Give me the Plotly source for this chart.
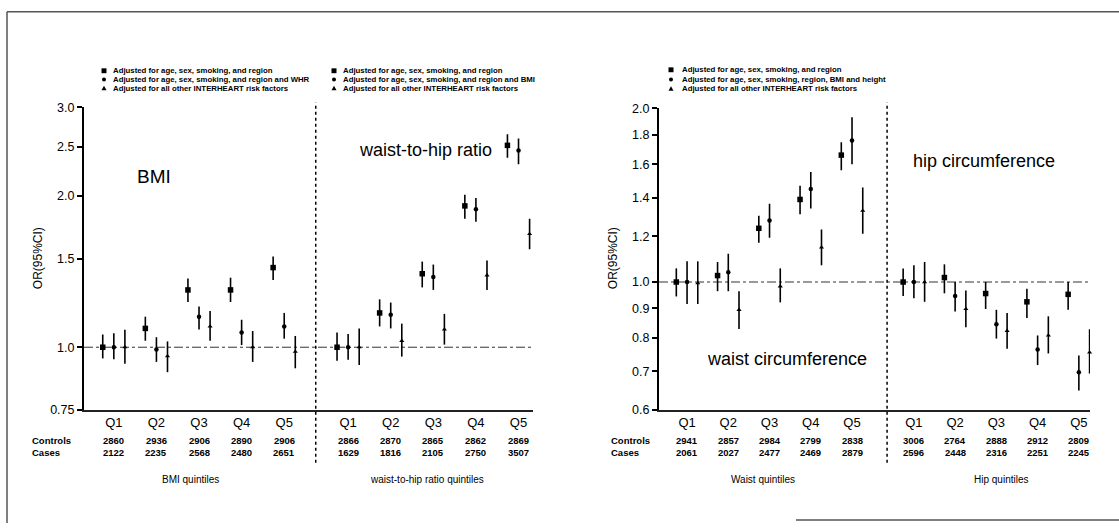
import math
import plotly.graph_objects as go

W, H = 1119, 530

# ---------------- data ----------------
quintiles = ["Q1", "Q2", "Q3", "Q4", "Q5"]

# BMI (left panel, left half)
bmi_sq = [1.00, 1.09, 1.30, 1.30, 1.44]
bmi_sq_lo = [0.95, 1.03, 1.23, 1.23, 1.36]
bmi_sq_hi = [1.06, 1.15, 1.37, 1.375, 1.515]
bmi_ci = [1.00, 0.99, 1.15, 1.07, 1.10]
bmi_ci_lo = [0.947, 0.935, 1.085, 1.01, 1.04]
bmi_ci_hi = [1.066, 1.047, 1.205, 1.134, 1.17]
bmi_tr = [1.00, 0.96, 1.10, 1.00, 0.98]
bmi_tr_lo = [0.927, 0.892, 1.03, 0.935, 0.908]
bmi_tr_hi = [1.083, 1.027, 1.18, 1.077, 1.053]

# waist-to-hip ratio (left panel, right half)
whr_sq = [1.00, 1.17, 1.40, 1.91, 2.52]
whr_sq_lo = [0.94, 1.10, 1.315, 1.80, 2.38]
whr_sq_hi = [1.07, 1.245, 1.48, 2.01, 2.65]
whr_ci = [1.00, 1.16, 1.38, 1.88, 2.46]
whr_ci_lo = [0.944, 1.09, 1.30, 1.776, 2.31]
whr_ci_hi = [1.063, 1.227, 1.46, 1.98, 2.60]
whr_tr = [1.00, 1.03, 1.085, 1.39, 1.68]
whr_tr_lo = [0.922, 0.958, 1.012, 1.30, 1.566]
whr_tr_hi = [1.09, 1.114, 1.165, 1.487, 1.80]

# waist circumference (right panel, left half)
waist_sq = [1.00, 1.026, 1.239, 1.39, 1.659]
waist_sq_lo = [0.944, 0.964, 1.17, 1.31, 1.561]
waist_sq_hi = [1.056, 1.083, 1.303, 1.468, 1.747]
waist_ci = [1.00, 1.04, 1.278, 1.449, 1.758]
waist_ci_lo = [0.916, 0.964, 1.193, 1.341, 1.60]
waist_ci_hi = [1.086, 1.119, 1.367, 1.551, 1.93]
waist_tr = [0.996, 0.895, 0.983, 1.148, 1.329]
waist_tr_lo = [0.916, 0.829, 0.922, 1.069, 1.212]
waist_tr_hi = [1.086, 0.964, 1.056, 1.233, 1.458]

# hip circumference (right panel, right half)
hip_sq = [1.00, 1.018, 0.955, 0.924, 0.952]
hip_sq_lo = [0.946, 0.956, 0.898, 0.866, 0.895]
hip_sq_hi = [1.055, 1.073, 1.0, 0.973, 1.0]
hip_ci = [1.00, 0.946, 0.845, 0.764, 0.698]
hip_ci_lo = [0.937, 0.889, 0.798, 0.718, 0.649]
hip_ci_hi = [1.069, 1.0, 0.895, 0.808, 0.746]
hip_tr = [1.00, 0.898, 0.823, 0.808, 0.755]
hip_tr_lo = [0.924, 0.835, 0.766, 0.752, 0.694]
hip_tr_hi = [1.083, 0.967, 0.884, 0.872, 0.828]

# table counts
bmi_controls = [2860, 2936, 2906, 2890, 2906]
bmi_cases = [2122, 2235, 2568, 2480, 2651]
whr_controls = [2866, 2870, 2865, 2862, 2869]
whr_cases = [1629, 1816, 2105, 2750, 3507]
waist_controls = [2941, 2857, 2984, 2799, 2838]
waist_cases = [2061, 2027, 2477, 2469, 2879]
hip_controls = [3006, 2764, 2888, 2912, 2809]
hip_cases = [2596, 2448, 2316, 2251, 2245]

left_yticks = [0.75, 1.0, 1.5, 2.0, 2.5, 3.0]
left_yticktext = ["0.75", "1.0", "1.5", "2.0", "2.5", "3.0"]
right_yticks = [0.6, 0.7, 0.8, 0.9, 1.0, 1.2, 1.4, 1.6, 1.8, 2.0]
right_yticktext = ["0.6", "0.7", "0.8", "0.9", "1.0", "1.2", "1.4", "1.6", "1.8", "2.0"]

legend_left1 = ["Adjusted for age, sex, smoking, and region",
                "Adjusted for age, sex, smoking, and region and WHR",
                "Adjusted for all other INTERHEART risk factors"]
legend_left2 = ["Adjusted for age, sex, smoking, and region",
                "Adjusted for age, sex, smoking, and region and BMI",
                "Adjusted for all other INTERHEART risk factors"]
legend_right = ["Adjusted for age, sex, smoking, and region",
                "Adjusted for age, sex, smoking, region, BMI and height",
                "Adjusted for all other INTERHEART risk factors"]

# ---------------- helpers ----------------
FONT = "Arial, Liberation Sans, Helvetica, sans-serif"


def px(x):
    return x / W


def py(y):
    return 1 - y / H


group1 = [1, 2, 3, 4, 5]
group2 = [6.5, 7.5, 8.5, 9.5, 10.5]
OFF = 0.26

fig = go.Figure()


def add_series(xs, ys, lo, hi, symbol, size, xa, ya):
    fig.add_trace(go.Scatter(
        x=xs, y=ys, mode="markers", cliponaxis=False,
        marker=dict(symbol=symbol, size=size, color="black"),
        error_y=dict(type="data", symmetric=False,
                     array=[h - v for h, v in zip(hi, ys)],
                     arrayminus=[v - l for v, l in zip(ys, lo)],
                     color="black", thickness=1.6, width=0),
        xaxis=xa, yaxis=ya, showlegend=False, hoverinfo="skip"))


def add_block(base, sq, sql, sqh, ci, cil, cih, tr, trl, trh, xa, ya):
    add_series([b - OFF for b in base], sq, sql, sqh, "square", 5.5, xa, ya)
    add_series(base, ci, cil, cih, "circle", 4.5, xa, ya)
    add_series([b + OFF for b in base], tr, trl, trh, "triangle-up", 4.5, xa, ya)


# reference lines at OR = 1
fig.add_trace(go.Scatter(x=[0.30, 10.84], y=[1.0, 1.0], mode="lines",
                         line=dict(color="#333", width=1, dash="dashdot"),
                         xaxis="x", yaxis="y", showlegend=False, hoverinfo="skip"))
fig.add_trace(go.Scatter(x=[0.32, 10.77], y=[1.0, 1.0], mode="lines",
                         line=dict(color="#333", width=1, dash="dashdot"),
                         xaxis="x2", yaxis="y2", showlegend=False, hoverinfo="skip"))

add_block(group1, bmi_sq, bmi_sq_lo, bmi_sq_hi, bmi_ci, bmi_ci_lo, bmi_ci_hi,
          bmi_tr, bmi_tr_lo, bmi_tr_hi, "x", "y")
add_block(group2, whr_sq, whr_sq_lo, whr_sq_hi, whr_ci, whr_ci_lo, whr_ci_hi,
          whr_tr, whr_tr_lo, whr_tr_hi, "x", "y")
add_block(group1, waist_sq, waist_sq_lo, waist_sq_hi, waist_ci, waist_ci_lo, waist_ci_hi,
          waist_tr, waist_tr_lo, waist_tr_hi, "x2", "y2")
add_block(group2, hip_sq, hip_sq_lo, hip_sq_hi, hip_ci, hip_ci_lo, hip_ci_hi,
          hip_tr, hip_tr_lo, hip_tr_hi, "x2", "y2")

xcommon = dict(showgrid=False, zeroline=False, showline=True, linecolor="#222",
               linewidth=1.5, ticks="", tickvals=group1 + group2,
               ticktext=quintiles + quintiles,
               tickfont=dict(family=FONT, size=13, color="black"))
ycommon = dict(type="log", showgrid=False, zeroline=False, showline=True,
               linecolor="black", linewidth=2, ticks="outside", ticklen=5,
               tickwidth=1.5, tickcolor="black",
               tickfont=dict(family=FONT, size=12.5, color="black"))

fig.update_layout(
    width=W, height=H, margin=dict(l=0, r=0, t=0, b=0),
    paper_bgcolor="white", plot_bgcolor="white",
    xaxis=dict(domain=[px(84), px(533)], range=[0.30, 10.84], anchor="y", **xcommon),
    yaxis=dict(domain=[py(414), py(103)], range=[math.log10(0.75), math.log10(3.0)],
               anchor="x", tickvals=left_yticks, ticktext=left_yticktext, **ycommon),
    xaxis2=dict(domain=[px(659), px(1090)], range=[0.32, 10.77], anchor="y2", **xcommon),
    yaxis2=dict(domain=[py(414), py(104)], range=[math.log10(0.6), math.log10(2.0)],
                anchor="x2", tickvals=right_yticks, ticktext=right_yticktext, **ycommon),
)

shapes = []
annots = []

# separators
shapes.append(dict(type="line", xref="x", yref="paper", x0=5.74, x1=5.74,
                   y0=py(468), y1=py(98), line=dict(color="black", width=1.5, dash="dot")))
shapes.append(dict(type="line", xref="x2", yref="paper", x0=5.85, x1=5.85,
                   y0=py(468), y1=py(98), line=dict(color="black", width=1.5, dash="dot")))

# border
for x0, y0, x1, y1 in [(7, 5, 1119, 5), (7, 5, 7, 530), (796, 527, 1119, 527)]:
    shapes.append(dict(type="line", xref="paper", yref="paper", x0=px(x0), x1=px(x1),
                       y0=py(y0), y1=py(y1), line=dict(color="#555", width=1.5)))


# legend glyphs + text
def glyph(kind, cx, cy):
    if kind == "square":
        shapes.append(dict(type="rect", xref="paper", yref="paper",
                           x0=px(cx - 2.5), x1=px(cx + 2.5), y0=py(cy + 2.5), y1=py(cy - 2.5),
                           fillcolor="black", line=dict(width=0)))
    elif kind == "circle":
        shapes.append(dict(type="circle", xref="paper", yref="paper",
                           x0=px(cx - 2), x1=px(cx + 2), y0=py(cy + 2), y1=py(cy - 2),
                           fillcolor="black", line=dict(width=0)))
    else:
        path = "M {} {} L {} {} L {} {} Z".format(
            px(cx - 2.5), py(cy + 2), px(cx + 2.5), py(cy + 2), px(cx), py(cy - 2.5))
        shapes.append(dict(type="path", xref="paper", yref="paper", path=path,
                           fillcolor="black", line=dict(width=0)))


def legend_block(texts, mx, tx, ys):
    for kind, t, yy in zip(["square", "circle", "tri"], texts, ys):
        glyph(kind, mx, yy)
        annots.append(dict(text=t, xref="paper", yref="paper", x=px(tx), y=py(yy),
                           xanchor="left", yanchor="middle", showarrow=False,
                           font=dict(family=FONT, size=7.8, color="black", weight="bold")))


legend_block(legend_left1, 104, 111, [65.5, 74.5, 83.5])
legend_block(legend_left2, 334, 341, [65.5, 74.5, 83.5])
legend_block(legend_right, 671, 680, [64.5, 74.5, 84])

# panel labels
for t, cx, cy, s in [("BMI", 154, 174, 19), ("waist-to-hip ratio", 425, 147, 18),
                     ("waist circumference", 787, 362, 18), ("hip circumference", 984, 158, 18)]:
    annots.append(dict(text=t, xref="paper", yref="paper", x=px(cx), y=py(cy),
                       xanchor="center", yanchor="middle", showarrow=False,
                       font=dict(family=FONT, size=s, color="black")))

# y titles
for cx in (38, 613):
    annots.append(dict(text="OR(95%CI)", xref="paper", yref="paper", x=px(cx), y=py(258),
                       textangle=-90, xanchor="center", yanchor="middle", showarrow=False,
                       font=dict(family=FONT, size=12, color="black")))


# tables
def table(xa, base, ctrl, cases):
    for b, c, k in zip(base, ctrl, cases):
        annots.append(dict(text=str(c), xref=xa, yref="paper", x=b, y=py(445),
                           xanchor="center", yanchor="middle", showarrow=False,
                           font=dict(family=FONT, size=9.5, color="black", weight="bold")))
        annots.append(dict(text=str(k), xref=xa, yref="paper", x=b, y=py(458),
                           xanchor="center", yanchor="middle", showarrow=False,
                           font=dict(family=FONT, size=9.5, color="black", weight="bold")))


table("x", group1, bmi_controls, bmi_cases)
table("x", group2, whr_controls, whr_cases)
table("x2", group1, waist_controls, waist_cases)
table("x2", group2, hip_controls, hip_cases)

for lx in (30, 609):
    annots.append(dict(text="Controls", xref="paper", yref="paper", x=px(lx), y=py(445),
                       xanchor="left", yanchor="middle", showarrow=False,
                       font=dict(family=FONT, size=9.5, color="black", weight="bold")))
    annots.append(dict(text="Cases", xref="paper", yref="paper", x=px(lx), y=py(458),
                       xanchor="left", yanchor="middle", showarrow=False,
                       font=dict(family=FONT, size=9.5, color="black", weight="bold")))

for t, xa, xv in [("BMI quintiles", "x", 2.8), ("waist-to-hip ratio quintiles", "x", 8.35),
                  ("Waist quintiles", "x2", 2.85), ("Hip quintiles", "x2", 8.6)]:
    annots.append(dict(text=t, xref=xa, yref="paper", x=xv, y=py(485),
                       xanchor="center", yanchor="middle", showarrow=False,
                       font=dict(family=FONT, size=10, color="black")))

fig.update_layout(shapes=shapes, annotations=annots)

# remove the default page margin so the figure sits at the window origin
post = ("document.body.style.margin='0';document.body.style.padding='0';"
        "document.body.style.overflow='hidden';"
        "document.documentElement.style.overflow='hidden';")
fig.write_html("out.html", post_script=post, config={"displayModeBar": False})
